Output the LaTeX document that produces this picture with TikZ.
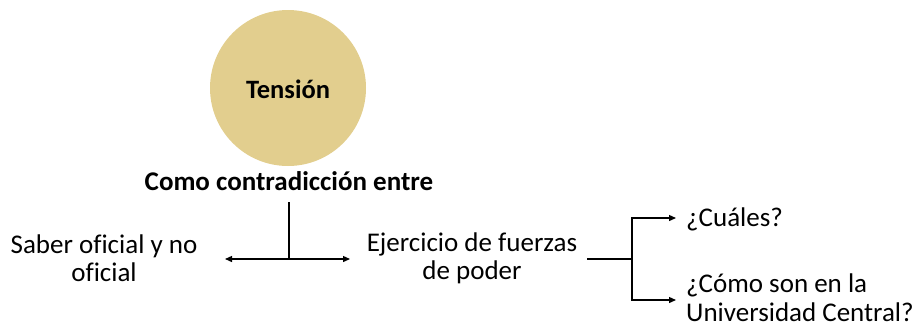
\documentclass[tikz,border=0pt]{standalone}
\usepackage{fontspec}
\setmainfont{Carlito}[Ligatures=CommonOff]
\usetikzlibrary{arrows.meta}
\definecolor{tan}{RGB}{226,206,142}
\tikzset{
  txt/.style={inner sep=0pt, font=\fontsize{27}{28}\selectfont, align=center},
  conn/.style={line width=1.3pt, draw=black},
  arr/.style={conn, -{Triangle[length=7pt,width=6pt]}},
}
\begin{document}
\begin{tikzpicture}[x=1pt,y=-1pt]
\useasboundingbox (0,0) rectangle (916,327);
\node[circle, fill=tan, minimum size=156pt, inner sep=0pt] (tension) at (288,88) {};
\node[txt, font=\fontsize{26.5}{28}\selectfont\bfseries] (tlabel) at (288,89) {Tensión};
\node[txt, font=\fontsize{27}{28}\selectfont\bfseries] (contra) at (289,181) {Como contradicción entre};
\node[txt] (saber) at (104,258) {Saber oficial y no\\oficial};
\node[txt] (ejer) at (472,258) {Ejercicio de fuerzas\\de poder};
\node[txt, anchor=west] (cuales) at (686,219) {¿Cuáles?};
\node[txt, anchor=west, align=left, font=\fontsize{27}{29}\selectfont] (como) at (686,298) {¿Cómo son en la\\Universidad Central?};
\coordinate (top) at (289,202);
\coordinate (j) at (289,259);
\coordinate (la) at (225,259);
\coordinate (ra) at (350,259);
\coordinate (rs) at (587,259);
\coordinate (b) at (632,259);
\coordinate (ca) at (676,218);
\coordinate (cb) at (676,300);
\draw[conn] (top) -- (j);
\draw[arr] (j) -- (la);
\draw[arr] (j) -- (ra);
\draw[conn] (rs) -- (b);
\draw[arr] (b) |- (ca);
\draw[arr] (b) |- (cb);
\end{tikzpicture}
\end{document}
